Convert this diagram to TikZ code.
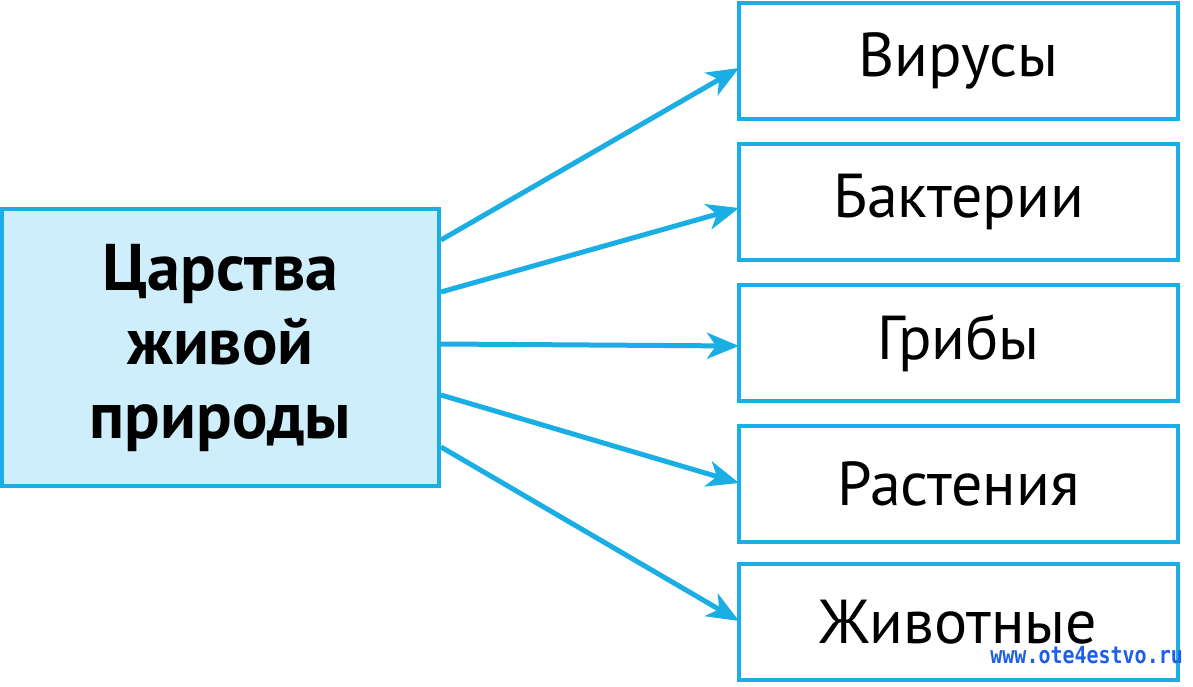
\documentclass[tikz,border=0pt]{standalone}
\usepackage{fontspec}
\setmainfont{PT Sans}
\newfontfamily\wmfont{DejaVu Sans Mono}
\usetikzlibrary{arrows.meta}
\definecolor{cyanline}{HTML}{1AAEE5}
\definecolor{lightfill}{HTML}{CFEEFB}
\definecolor{wmblue}{HTML}{1F5FE8}
\tikzset{
  kbox/.style={draw=cyanline, line width=3.5pt, minimum width=439pt, minimum height=116pt, inner sep=0pt, font=\fontsize{62}{70}\selectfont},
  mainbox/.style={draw=cyanline, fill=lightfill, line width=3.5pt, minimum width=437pt, minimum height=277pt, inner sep=0pt, align=center, font=\bfseries\fontsize{66}{74}\selectfont},
  conn/.style={draw=cyanline, line width=5pt, -{Stealth[length=32pt,width=26pt,inset=9pt]}}
}
\begin{document}
\begin{tikzpicture}[x=1pt,y=-1pt]
\useasboundingbox (0,0) rectangle (1193,687);
\node[mainbox] (m) at (220.5,347.5) {Царства\\живой\\природы};
\node[kbox] (b1) at (958.5,61) {Вирусы};
\node[kbox] (b2) at (958.5,202) {Бактерии};
\node[kbox] (b3) at (958.5,343) {Грибы};
\node[kbox] (b4) at (958.5,484) {Растения};
\node[kbox] (b5) at (958.5,622) {Животные};
\coordinate (s1) at (441,240);
\coordinate (s2) at (441,292);
\coordinate (s3) at (441,344);
\coordinate (s4) at (441,395);
\coordinate (s5) at (441,447);
\coordinate (e1) at (739,68);
\coordinate (e2) at (739,208);
\coordinate (e3) at (739,346);
\coordinate (e4) at (739,483);
\coordinate (e5) at (739,621);
\draw[conn] (s1) -- (e1);
\draw[conn] (s2) -- (e2);
\draw[conn] (s3) -- (e3);
\draw[conn] (s4) -- (e4);
\draw[conn] (s5) -- (e5);
\node[text=wmblue, font=\wmfont\bfseries\fontsize{23.5}{25}\selectfont, xscale=0.85, transform shape, anchor=east, inner sep=0pt] (wm) at (1183,655) {www.ote4estvo.ru};
\end{tikzpicture}
\end{document}
